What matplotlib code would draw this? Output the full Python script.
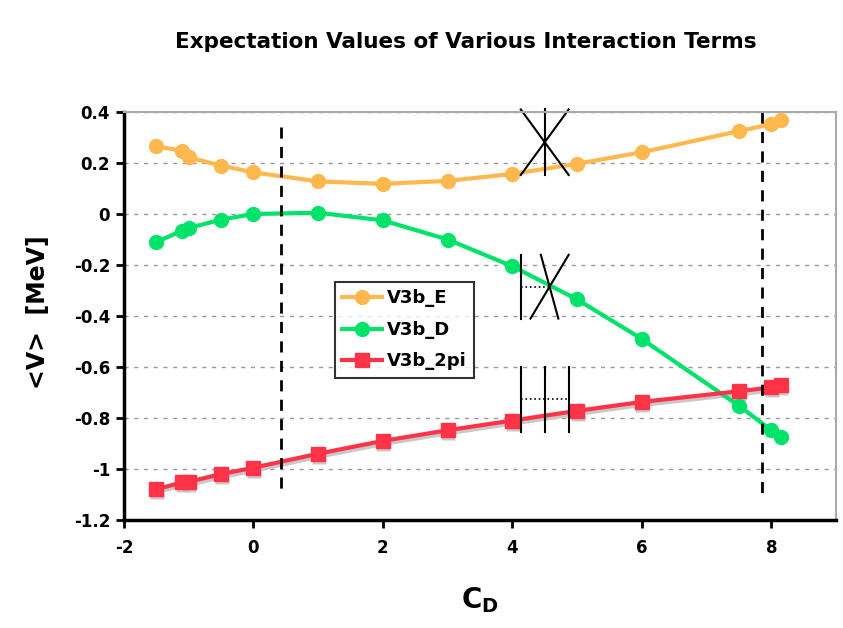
import matplotlib.pyplot as plt
from matplotlib.transforms import offset_copy

plt.rcParams['axes.unicode_minus'] = False

# C_D values (shared by all three series)
cd = [-1.5, -1.1, -1.0, -0.5, 0, 1, 2, 3, 4, 5, 6, 7.5, 8, 8.15]

v3b_e = [0.265, 0.248, 0.222, 0.19, 0.163, 0.128, 0.118, 0.13, 0.157, 0.197, 0.242, 0.325, 0.352, 0.368]
v3b_d = [-0.11, -0.065, -0.055, -0.022, 0.0, 0.005, -0.025, -0.1, -0.205, -0.335, -0.49, -0.752, -0.848, -0.875]
v3b_2pi = [-1.08, -1.052, -1.05, -1.02, -0.995, -0.94, -0.89, -0.848, -0.81, -0.772, -0.737, -0.695, -0.68, -0.672]

series_names = ['V3b_E', 'V3b_D', 'V3b_2pi']
colors = ['#FFB84D', '#00E36B', '#FF3347']

fig = plt.figure(figsize=(8.43, 6.28), dpi=100)
ax = fig.add_axes([124 / 843, 108 / 628, 712 / 843, 408 / 628])

# gray drop shadow under the 2pi series
shadow = offset_copy(ax.transData, fig=fig, x=0.5, y=-3, units='dots')
ax.plot(cd, v3b_2pi, color='#c8c8c8', lw=3, marker='s', ms=10, mec='none',
        transform=shadow, zorder=1.9)

ax.plot(cd, v3b_e, color=colors[0], lw=3, marker='o', ms=10, label=series_names[0])
ax.plot(cd, v3b_d, color=colors[1], lw=3, marker='o', ms=10, label=series_names[1])
ax.plot(cd, v3b_2pi, color=colors[2], lw=3, marker='s', ms=10, label=series_names[2])

# dashed vertical markers
ax.plot([0.42, 0.42], [0.34, -1.1], color='black', lw=2, ls=(0, (4, 3)))
ax.plot([7.85, 7.85], [0.4, -1.1], color='black', lw=2, ls=(0, (4, 3)))

# hand-drawn annotation marks
k = dict(color='black', lw=1.5, clip_on=False)
ax.plot([4.13, 4.87], [0.41, 0.153], **k)
ax.plot([4.87, 4.13], [0.41, 0.153], **k)
ax.plot([4.5, 4.5], [0.41, 0.153], **k)

ax.plot([4.13, 4.13], [-0.16, -0.41], **k)
ax.plot([4.44, 4.71], [-0.16, -0.41], **k)
ax.plot([4.87, 4.28], [-0.16, -0.41], **k)
ax.plot([4.13, 4.58], [-0.286, -0.286], color='black', lw=1.2, ls=':')

for xv in [4.13, 4.5, 4.87]:
    ax.plot([xv, xv], [-0.6, -0.855], **k)
ax.plot([4.13, 4.87], [-0.725, -0.725], color='black', lw=1.2, ls=':')

ax.set_xlim(-2, 9)
ax.set_ylim(-1.2, 0.4)
ax.set_xticks([-2, 0, 2, 4, 6, 8])
ax.set_yticks([-1.2, -1, -0.8, -0.6, -0.4, -0.2, 0, 0.2, 0.4])
ax.set_yticklabels(['-1.2', '-1', '-0.8', '-0.6', '-0.4', '-0.2', '0', '0.2', '0.4'])

ax.yaxis.grid(True, color='#999999', ls=(0, (3, 4)), lw=1)
ax.set_axisbelow(True)

for s in ['left', 'bottom']:
    ax.spines[s].set_linewidth(2.5)
for s in ['top', 'right']:
    ax.spines[s].set_color('#aaaaaa')
    ax.spines[s].set_linewidth(1.5)

ax.tick_params(direction='out', length=6, width=2, labelsize=12)
for lab in ax.get_xticklabels() + ax.get_yticklabels():
    lab.set_fontweight('bold')
ax.tick_params(axis='x', pad=8)
ax.tick_params(axis='y', pad=4)

fig.text(466 / 843, 1 - 42 / 628, 'Expectation Values of Various Interaction Terms',
         fontsize=15.5, fontweight='bold', ha='center', va='center')
ax.set_xlabel('C$_\\mathbf{D}$', fontsize=20, fontweight='bold', va='center')
ax.xaxis.set_label_coords((480 - 124) / 712, -(600 - 520) / 408)
ax.set_ylabel('<V>  [MeV]', fontsize=17, fontweight='bold', va='center')
ax.yaxis.set_label_coords((38 - 124) / 712, 0.5 - (312 - 316) / 408)

leg = ax.legend(loc='upper left', bbox_to_anchor=(0.2963, 0.583), frameon=True,
                fancybox=False, edgecolor='black', fontsize=13, handlelength=2.2,
                borderpad=0.4, labelspacing=0.75, handletextpad=0.3, borderaxespad=0)
leg.get_frame().set_linewidth(1.5)
for t in leg.get_texts():
    t.set_fontweight('bold')

fig.savefig('out.png', dpi=100)
